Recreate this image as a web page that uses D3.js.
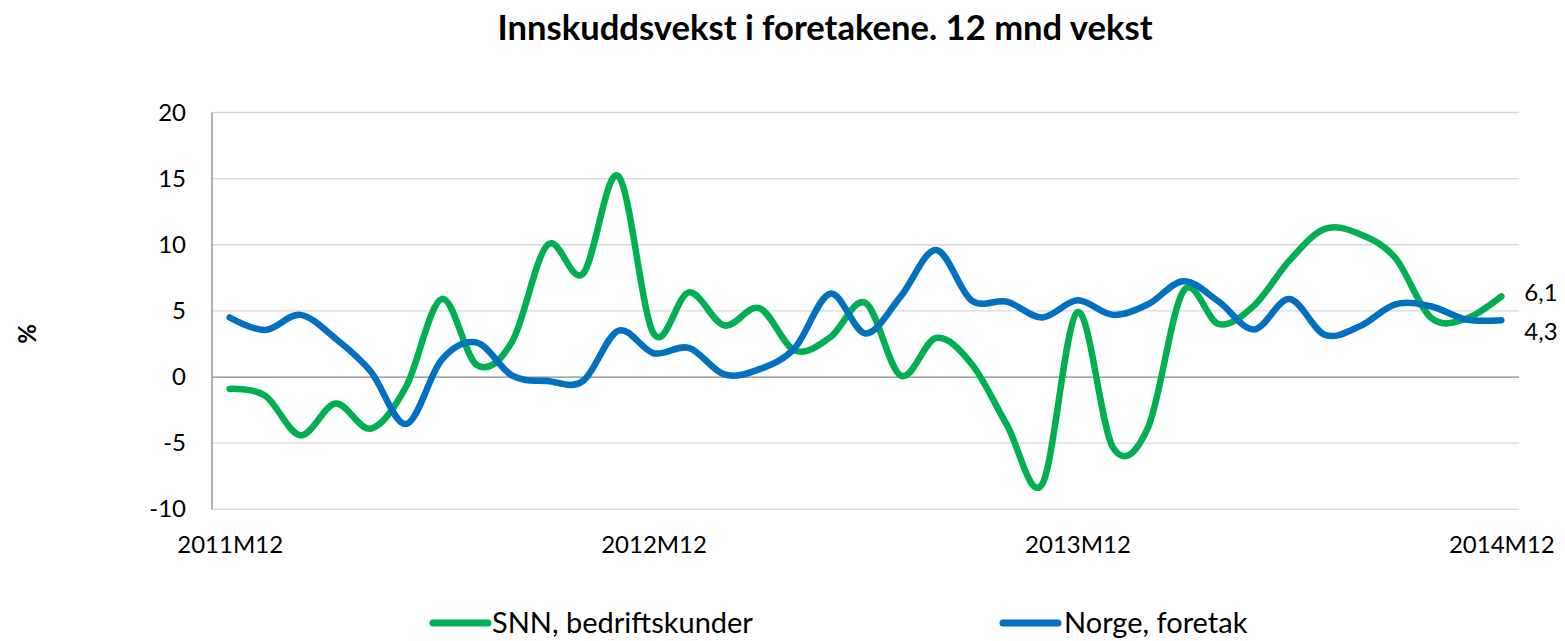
<!DOCTYPE html>
<html>
<head>
<meta charset="utf-8">
<script src="https://cdn.jsdelivr.net/npm/d3@7"></script>
<style>
  body { margin: 0; background: #ffffff; }
  svg text { font-family: Lato, "Open Sans", sans-serif; fill: #000; }
</style>
</head>
<body>
<svg id="chart" width="1565" height="641"></svg>
<script>
// Monthly periods on the category axis
const months = [
  "2011M12",
  "2012M01","2012M02","2012M03","2012M04","2012M05","2012M06",
  "2012M07","2012M08","2012M09","2012M10","2012M11","2012M12",
  "2013M01","2013M02","2013M03","2013M04","2013M05","2013M06",
  "2013M07","2013M08","2013M09","2013M10","2013M11","2013M12",
  "2014M01","2014M02","2014M03","2014M04","2014M05","2014M06",
  "2014M07","2014M08","2014M09","2014M10","2014M11","2014M12"
];

// 12-month deposit growth, percent
const snnBedrift = [
  -0.9, -1.4, -4.4, -2.0, -3.9, -0.7, 5.9, 0.9, 2.7, 10.0, 7.8, 15.2,
  3.3, 6.4, 3.9, 5.2, 2.0, 3.0, 5.6, 0.1, 2.95, 1.0, -3.6, -8.1,
  4.9, -5.3, -3.8, 6.5, 4.0, 5.4, 8.8, 11.2, 10.8, 9.0, 4.5, 4.4, 6.1
];
const norgeForetak = [
  4.5, 3.55, 4.7, 2.9, 0.4, -3.55, 1.3, 2.6, 0.1, -0.3, -0.3, 3.5,
  1.8, 2.2, 0.2, 0.6, 2.2, 6.3, 3.3, 6.1, 9.6, 5.8, 5.7, 4.5,
  5.8, 4.7, 5.5, 7.25, 5.7, 3.6, 5.9, 3.2, 3.85, 5.5, 5.35, 4.35, 4.3
];

const seriesNames = ["SNN, bedriftskunder", "Norge, foretak"];
const seriesColors = ["#00B050", "#0070C0"];
const yTicks = [-10, -5, 0, 5, 10, 15, 20];
const xTickLabels = ["2011M12", "2012M12", "2013M12", "2014M12"];
const titleText = "Innskuddsvekst i foretakene. 12 mnd vekst";
const yAxisTitle = "%";

const svg = d3.select("#chart");
const plot = { left: 212, right: 1519, top: 112.5, bottom: 509.3 };

const x = d3.scalePoint()
  .domain(months)
  .range([plot.left, plot.right])
  .padding(0.5);

const y = d3.scaleLinear()
  .domain([-10, 20])
  .range([plot.bottom, plot.top]);

// Title
svg.append("text")
  .attr("x", 825)
  .attr("y", 40)
  .attr("text-anchor", "middle")
  .style("font-weight", "bold")
  .style("font-size", "34.6px")
  .text(titleText);

// Horizontal gridlines
svg.append("g")
  .selectAll("line")
  .data(yTicks.filter(t => t !== 0))
  .join("line")
  .attr("x1", plot.left)
  .attr("x2", plot.right)
  .attr("y1", d => y(d))
  .attr("y2", d => y(d))
  .attr("stroke", "#D9D9D9")
  .attr("stroke-width", 1.3);

// Value axis (labels only) and its line
const yAxis = svg.append("g")
  .attr("transform", `translate(${plot.left},0)`)
  .call(d3.axisLeft(y).tickValues(yTicks).tickSize(0).tickPadding(26).tickFormat(d => String(d)));
yAxis.select(".domain").remove();
yAxis.selectAll("text").style("font-size", "24px").style("font-family", "Lato, 'Open Sans', sans-serif");

svg.append("line")
  .attr("x1", plot.left).attr("x2", plot.left)
  .attr("y1", plot.top).attr("y2", plot.bottom)
  .attr("stroke", "#868686").attr("stroke-width", 1.3);

// Category axis line at zero
svg.append("line")
  .attr("x1", plot.left).attr("x2", plot.right)
  .attr("y1", y(0)).attr("y2", y(0))
  .attr("stroke", "#868686").attr("stroke-width", 1.3);

// Category labels below the plot
const xAxis = svg.append("g")
  .attr("transform", `translate(0,${plot.bottom})`)
  .call(d3.axisBottom(x).tickValues(xTickLabels).tickSize(0).tickPadding(27));
xAxis.select(".domain").remove();
xAxis.selectAll("text").style("font-size", "24px").style("font-family", "Lato, 'Open Sans', sans-serif");

// Axis title
svg.append("text")
  .attr("transform", "translate(36,334) rotate(-90)")
  .attr("text-anchor", "middle")
  .style("font-weight", "bold")
  .style("font-size", "24px")
  .text(yAxisTitle);

// Smoothed series lines
const line = d3.line()
  .x((d, i) => x(months[i]))
  .y(d => y(d))
  .curve(d3.curveCatmullRom.alpha(0));

const series = [snnBedrift, norgeForetak];
svg.append("g")
  .selectAll("path")
  .data(series)
  .join("path")
  .attr("d", d => line(d))
  .attr("fill", "none")
  .attr("stroke", (d, i) => seriesColors[i])
  .attr("stroke-width", 6.5)
  .attr("stroke-linecap", "round")
  .attr("stroke-linejoin", "round");

// Value labels at the last period
const fmt = v => d3.format(".1f")(v).replace(".", ",");
const lastIdx = months.length - 1;
const labelDy = [-4, 11];
svg.append("g")
  .selectAll("text")
  .data(series)
  .join("text")
  .attr("x", x(months[lastIdx]) + 23)
  .attr("y", (d, i) => y(d[lastIdx]) + labelDy[i])
  .attr("dy", "0.35em")
  .style("font-size", "24px")
  .text(d => fmt(d[lastIdx]));

// Legend
const legendX = [433, 1003];
const legend = svg.append("g")
  .selectAll("g")
  .data(seriesNames)
  .join("g")
  .attr("transform", (d, i) => `translate(${legendX[i]},623)`);
legend.append("line")
  .attr("x1", 0).attr("x2", 55)
  .attr("y1", 0).attr("y2", 0)
  .attr("stroke", (d, i) => seriesColors[i])
  .attr("stroke-width", 7)
  .attr("stroke-linecap", "round");
legend.append("text")
  .attr("x", (d, i) => i === 0 ? 59 : 61)
  .attr("y", 10)
  .style("font-size", "29px")
  .text(d => d);
</script>
</body>
</html>
